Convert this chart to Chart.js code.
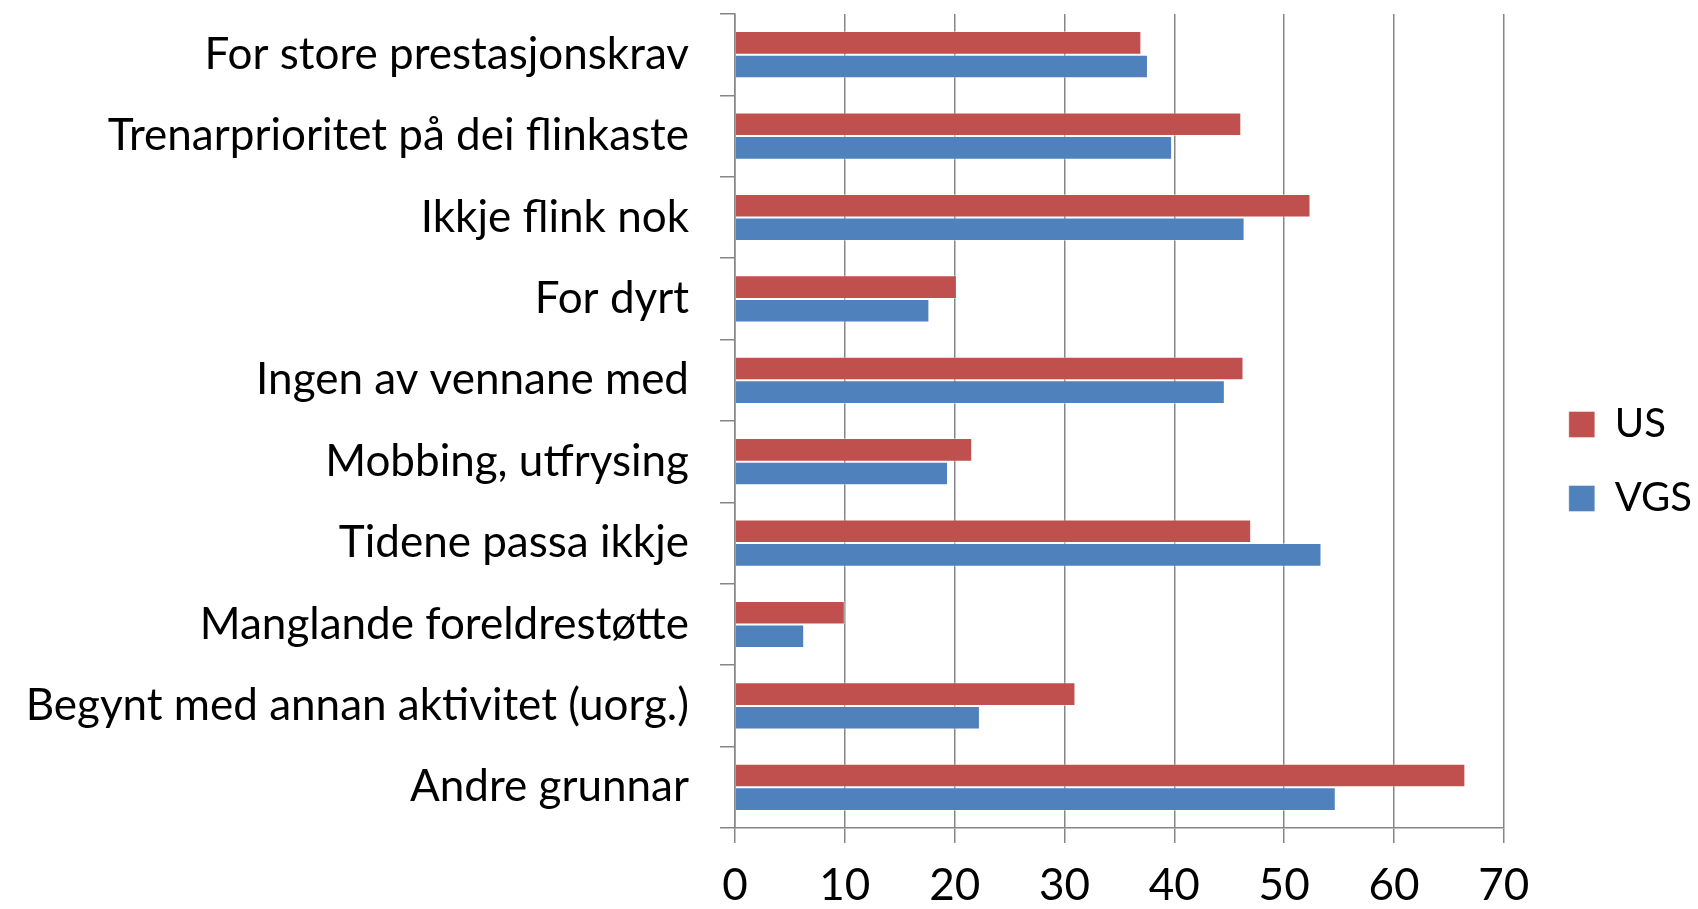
<!DOCTYPE html>
<html>
<head>
<meta charset="utf-8">
<script src="https://cdn.jsdelivr.net/npm/chart.js@4"></script>
<style>
  html, body { margin: 0; padding: 0; background: #fff; }
  #wrap { width: 1698px; height: 909px; }
</style>
</head>
<body>
<div id="wrap"><canvas id="myChart"></canvas></div>
<script>
    var categories = ['For store prestasjonskrav', 'Trenarprioritet på dei flinkaste', 'Ikkje flink nok', 'For dyrt',
        'Ingen av vennane med', 'Mobbing, utfrysing', 'Tidene passa ikkje', 'Manglande foreldrestøtte',
        'Begynt med annan aktivitet (uorg.)', 'Andre grunnar'];
    var usValues = [37.0, 46.1, 52.4, 20.2, 46.3, 21.6, 47.0, 10.0, 31.0, 66.5];
    var vgsValues = [37.6, 39.8, 46.4, 17.7, 44.6, 19.4, 53.4, 6.3, 22.3, 54.7];
    var xTicks = [0, 10, 20, 30, 40, 50, 60, 70];

    var fontFamily = 'Lato, "Open Sans", sans-serif';

    // nudge the legend towards the right edge, like the original
    var legendShift = {
        id: 'legendShift',
        afterLayout: function (chart) {
            chart.legend.left += 31;
            chart.legend.right += 31;
        }
    };

    var ctx = document.getElementById('myChart').getContext('2d');
    var chart = new Chart(ctx, {
        type: 'bar',
        data: {
            labels: categories,
            datasets: [
                {
                    label: 'US',
                    backgroundColor: '#C0504D',
                    borderColor: 'rgba(255,255,255,0.4)',
                    borderWidth: 1,
                    data: usValues
                },
                {
                    label: 'VGS',
                    backgroundColor: '#4F81BD',
                    borderColor: 'rgba(255,255,255,0.4)',
                    borderWidth: 1,
                    data: vgsValues
                }
            ]
        },
        plugins: [legendShift],
        options: {
            indexAxis: 'y',
            responsive: true,
            maintainAspectRatio: false,
            animation: false,
            datasets: {
                bar: {
                    barPercentage: 1,
                    categoryPercentage: 0.58
                }
            },
            layout: {
                padding: { top: 14, left: 0, right: 27, bottom: 0 }
            },
            plugins: {
                tooltip: { enabled: false },
                legend: {
                    position: 'right',
                    labels: {
                        boxWidth: 26,
                        boxHeight: 26,
                        padding: 34,
                        color: '#000',
                        font: { family: fontFamily, size: 40 }
                    }
                }
            },
            scales: {
                x: {
                    min: 0,
                    max: 70,
                    afterBuildTicks: function (axis) {
                        axis.ticks = xTicks.map(function (v) { return { value: v }; });
                    },
                    afterFit: function (axis) {
                        axis.height = 81;
                    },
                    grid: {
                        color: '#868686',
                        lineWidth: 1.5,
                        tickLength: 15
                    },
                    border: { color: '#868686', width: 1.5 },
                    ticks: {
                        color: '#000',
                        padding: 16,
                        maxRotation: 0,
                        font: { family: fontFamily, size: 44 }
                    }
                },
                y: {
                    afterFit: function (axis) {
                        axis.width = 735;
                        axis.paddingTop = 0;
                        axis.paddingBottom = 0;
                    },
                    grid: {
                        offset: true,
                        drawOnChartArea: false,
                        color: '#868686',
                        lineWidth: 1.5,
                        tickLength: 15
                    },
                    border: { color: '#868686', width: 1.5 },
                    ticks: {
                        color: '#000',
                        padding: 31,
                        autoSkip: false,
                        font: { family: fontFamily, size: 44 }
                    }
                }
            }
        }
    });
</script>
</body>
</html>
